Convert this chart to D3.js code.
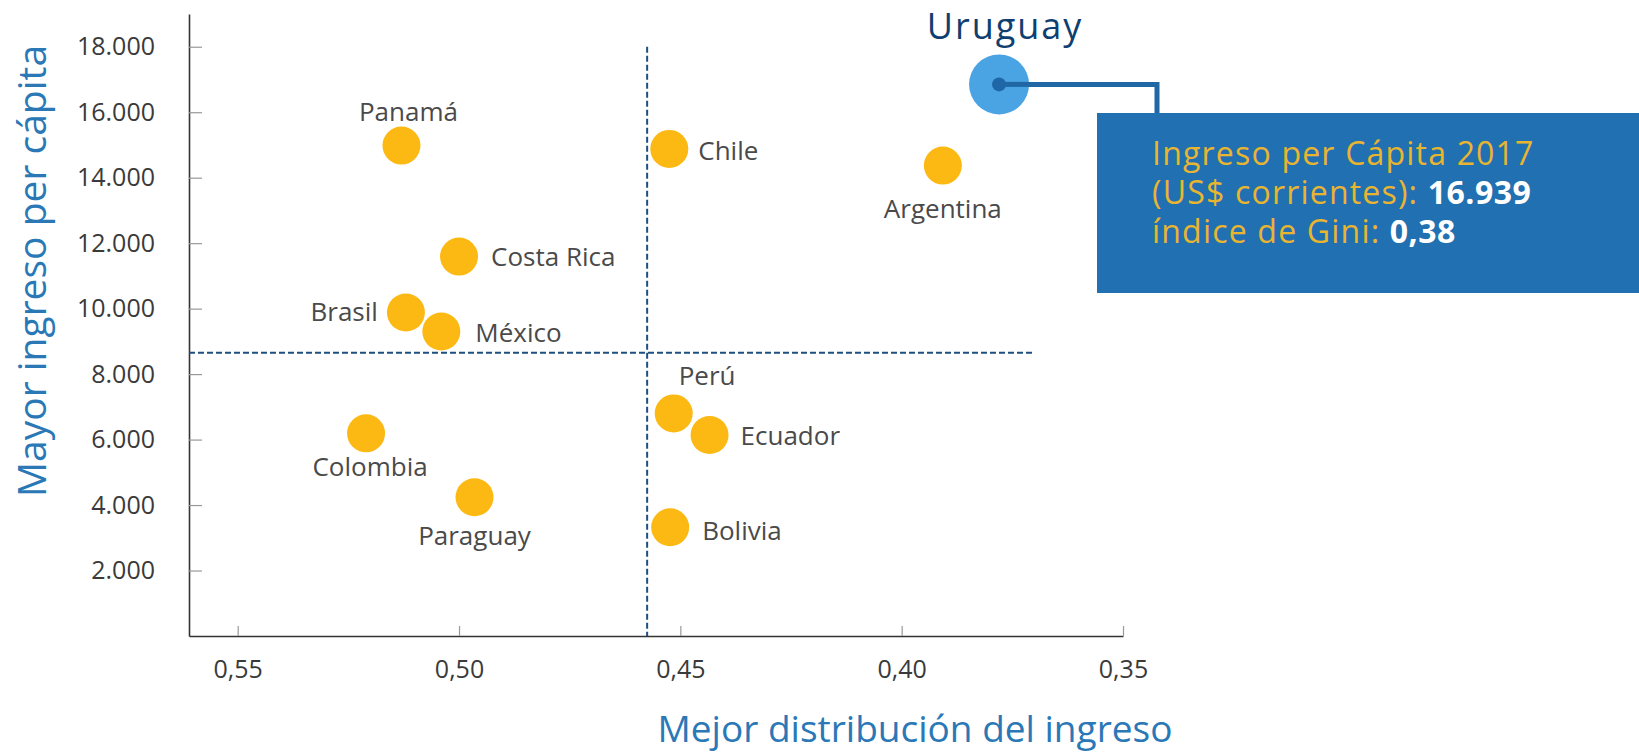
<!DOCTYPE html>
<html>
<head>
<meta charset="utf-8">
<script src="https://cdn.jsdelivr.net/npm/d3@7"></script>
<style>
  body { margin: 0; background: #fff; }
  svg { display: block; font-family: "Open Sans", "Noto Sans", sans-serif; }
</style>
</head>
<body>
<svg width="1639" height="753"></svg>
<script>
// Países y sus valores (Gini, ingreso per cápita US$)
const countries = ["Panamá", "Costa Rica", "Brasil", "México", "Colombia", "Paraguay",
                   "Chile", "Argentina", "Perú", "Ecuador", "Bolivia"];
const gini = [0.513, 0.500, 0.512, 0.504, 0.521, 0.4965, 0.4525, 0.3907, 0.4515, 0.4434, 0.4523];
const income = [14980, 11590, 9880, 9300, 6190, 4240, 14880, 14370, 6800, 6140, 3320];

// Uruguay destacado
const highlightName = "Uruguay";
const highlightGini = 0.378;
const highlightIncome = 16850;
const highlightText = ["Ingreso per Cápita 2017", "(US$ corrientes): ", "16.939", "índice de Gini: ", "0,38"];

// Líneas de referencia (promedios)
const giniRef = 0.4575;
const incomeRef = 8650;

// Ejes
const xTicks = [0.55, 0.50, 0.45, 0.40, 0.35];
const yTicks = [2000, 4000, 6000, 8000, 10000, 12000, 14000, 16000, 18000];
const xTitle = "Mejor distribución del ingreso";
const yTitle = "Mayor ingreso per cápita";

// Ubicación de etiquetas: [anchor, dx, dy]
const labelPlace = {
  "Panamá": ["middle", 7, -25],
  "Costa Rica": ["start", 32, 9],
  "Brasil": ["end", -28, 8],
  "México": ["start", 34, 10],
  "Colombia": ["middle", 4, 43],
  "Paraguay": ["middle", 0, 48],
  "Chile": ["start", 29, 11],
  "Argentina": ["middle", 0, 52],
  "Perú": ["start", 5, -28],
  "Ecuador": ["start", 31, 10],
  "Bolivia": ["start", 32, 13]
};

const svg = d3.select("svg");
const loc = d3.formatLocale({ decimal: ",", thousands: ".", grouping: [3], currency: ["$", ""] });

const x = d3.scaleLinear().domain([0.561, 0.35]).range([189, 1123]);
const y = d3.scaleLinear().domain([0, 19000]).range([636, 14]);

// Eje Y
const yAxis = svg.append("g")
  .attr("transform", `translate(${x(0.561)},0)`)
  .call(d3.axisLeft(y).tickValues(yTicks).tickSize(-13).tickSizeOuter(0).tickPadding(34)
    .tickFormat(loc.format(",.0f")));

// Eje X
const xAxis = svg.append("g")
  .attr("transform", `translate(0,${y(0)})`)
  .call(d3.axisBottom(x).tickValues(xTicks).tickSize(-10).tickSizeOuter(0).tickPadding(24)
    .tickFormat(loc.format(".2f")));

[xAxis, yAxis].forEach(g => {
  g.select(".domain").attr("stroke", "#333").attr("stroke-width", 1.6);
  g.selectAll(".tick line").attr("stroke", "#999").attr("stroke-width", 1.2);
  g.selectAll(".tick text").attr("fill", "#3a3a3a").attr("font-size", 25)
    .attr("font-family", "Open Sans");
});

// Líneas punteadas
svg.append("line")
  .attr("x1", x(0.561)).attr("x2", x(0.37))
  .attr("y1", y(incomeRef)).attr("y2", y(incomeRef))
  .attr("stroke", "#1d4f80").attr("stroke-width", 2).attr("stroke-dasharray", "6,3");
svg.append("line")
  .attr("x1", x(giniRef)).attr("x2", x(giniRef))
  .attr("y1", y(18000)).attr("y2", y(0))
  .attr("stroke", "#1d4f80").attr("stroke-width", 2).attr("stroke-dasharray", "6,3");

// Puntos
const pts = countries.map((c, i) => ({ name: c, gini: gini[i], income: income[i] }));

svg.append("g").selectAll("circle")
  .data(pts)
  .enter().append("circle")
  .attr("cx", d => x(d.gini))
  .attr("cy", d => y(d.income))
  .attr("r", 19)
  .attr("fill", "#fdb913");

svg.append("g").selectAll("text")
  .data(pts)
  .enter().append("text")
  .attr("x", d => x(d.gini) + labelPlace[d.name][1])
  .attr("y", d => y(d.income) + labelPlace[d.name][2])
  .attr("text-anchor", d => labelPlace[d.name][0])
  .attr("font-size", 26)
  .attr("fill", "#4a4a4a")
  .text(d => d.name);

// Uruguay y recuadro
const ux = x(highlightGini), uy = y(highlightIncome);
const boxX = 1097, boxY = 113;

svg.append("rect")
  .attr("x", boxX).attr("y", boxY)
  .attr("width", 1639 - boxX).attr("height", 180)
  .attr("fill", "#2170b1");

svg.append("path")
  .attr("d", `M${ux},${uy} H1157 V${boxY}`)
  .attr("fill", "none").attr("stroke", "#2067a6").attr("stroke-width", 5);

svg.append("circle").attr("cx", ux).attr("cy", uy).attr("r", 30).attr("fill", "#4aa3e2");
svg.append("circle").attr("cx", ux).attr("cy", uy).attr("r", 7).attr("fill", "#1f66a6");
svg.append("path")
  .attr("d", `M${ux},${uy} H${ux + 30}`)
  .attr("stroke", "#2067a6").attr("stroke-width", 5);

svg.append("text")
  .attr("x", ux + 6).attr("y", uy - 45)
  .attr("text-anchor", "middle")
  .attr("font-size", 36)
  .attr("letter-spacing", 2)
  .attr("fill", "#0f3f70")
  .text(highlightName);

const gold = "#e9b530";
const boxText = svg.append("g").attr("font-size", 32).attr("letter-spacing", 1.2).attr("fill", gold);
boxText.append("text").attr("x", 1152).attr("y", 165).text(highlightText[0]);
const t2 = boxText.append("text").attr("x", 1152).attr("y", 204);
t2.append("tspan").text(highlightText[1]);
t2.append("tspan").attr("fill", "#fff").attr("font-weight", "bold").attr("letter-spacing", 0.5).text(highlightText[2]);
const t3 = boxText.append("text").attr("x", 1152).attr("y", 243);
t3.append("tspan").text(highlightText[3]);
t3.append("tspan").attr("fill", "#fff").attr("font-weight", "bold").attr("letter-spacing", 0.5).text(highlightText[4]);

// Títulos de los ejes
svg.append("text")
  .attr("x", 915).attr("y", 742)
  .attr("text-anchor", "middle")
  .attr("font-size", 37)
  .attr("fill", "#2a78b6")
  .text(xTitle);

svg.append("text")
  .attr("transform", "translate(46,271) rotate(-90)")
  .attr("text-anchor", "middle")
  .attr("font-size", 39)
  .attr("fill", "#2a78b6")
  .text(yTitle);
</script>
</body>
</html>
